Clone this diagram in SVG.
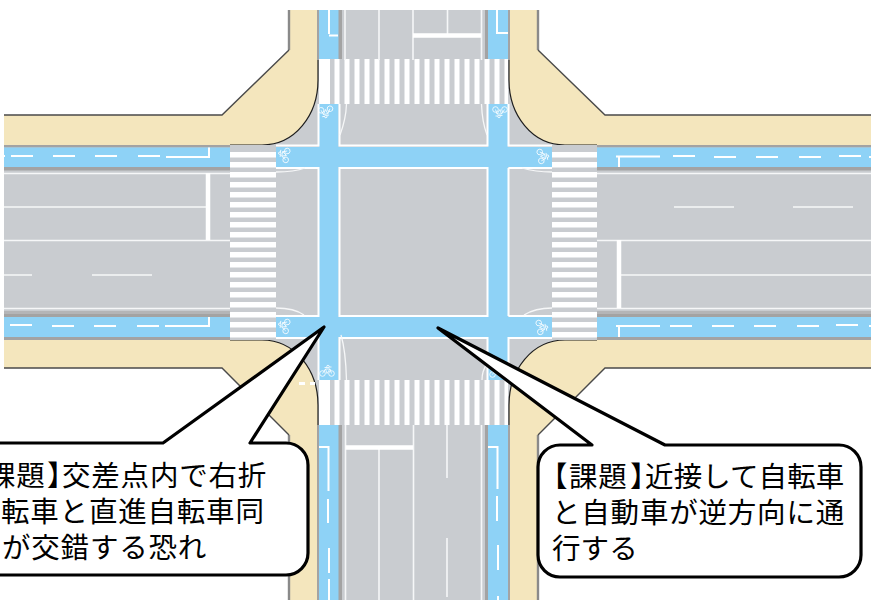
<svg xmlns="http://www.w3.org/2000/svg" xmlns:xlink="http://www.w3.org/1999/xlink" width="877" height="604" viewBox="0 0 877 604">
<style>
.road{fill:#c9ccd0}.blue{fill:#8ed2f6}.gut{fill:#a3a3a3}.gut2{fill:#b4b5b7}.walk{fill:#f4e6bd}
.edge{fill:none;stroke:#4a4a4a;stroke-width:1.4}.curb{fill:none;stroke:#1e1e1e;stroke-width:1.2}
.edgeg{fill:none;stroke:#8a8a8a;stroke-width:2.4}
.w1{stroke:#f6f7f8;stroke-width:1.6;fill:none}.w2{stroke:#fff;stroke-width:2;fill:none}.w4{stroke:#fff;stroke-width:4.5;fill:none}
.arc{stroke:#f6f7f8;stroke-width:1.3;fill:none}
.bike{stroke:#fff;stroke-width:.8;fill:none}
.call{fill:#fff;stroke:#000;stroke-width:3.2;stroke-linejoin:round}
.t{font-family:"Noto Sans CJK JP","Noto Sans CJK SC",sans-serif;font-size:28.5px;fill:#000;letter-spacing:.8px}
.n{letter-spacing:.1px}
</style>
<defs>
<pattern id="hs" patternUnits="userSpaceOnUse" width="10" height="10" y="2"><rect width="10" height="5.5" fill="#fff"/></pattern>
<pattern id="vs" patternUnits="userSpaceOnUse" width="10" height="10" x="4.5"><rect width="5" height="10" fill="#fff"/></pattern>
<g id="bk" class="bike"><circle cx="-4.5" cy="2.5" r="2.8"/><circle cx="4.5" cy="2.5" r="2.8"/><path d="M-4.5,2.5 L-1.5,-2 H3 L4.5,2.5 M-1.5,-2 L0,2.5 L3,-2 M-2.5,-3.5 H0 M2,-4 H4.5"/><circle cx="1" cy="-4.5" r="1.2"/></g>
</defs>
<rect width="877" height="604" fill="#fff"/>
<g id="road">
<rect class="road" x="4" y="145" width="867" height="195"/>
<rect class="road" x="317" y="10" width="193" height="590"/>
<rect class="road" x="262" y="80" width="303" height="325"/>
</g>
<g id="bike-lanes">
<rect class="gut" x="4" y="144" width="226" height="3.5"/><rect class="gut" x="4" y="167" width="226" height="3.5"/>
<rect class="gut2" x="4" y="311" width="226" height="3"/><rect class="gut" x="4" y="314" width="226" height="3"/><rect class="gut" x="4" y="337" width="226" height="3"/>
<rect class="gut" x="597" y="144" width="274" height="3.5"/><rect class="gut" x="597" y="167" width="274" height="3.5"/>
<rect class="gut2" x="597" y="311" width="274" height="3"/><rect class="gut" x="597" y="314" width="274" height="3"/><rect class="gut" x="597" y="337" width="274" height="3"/>
<rect class="gut" x="338" y="10" width="4" height="50"/><rect class="gut" x="485" y="10" width="3" height="50"/>
<rect class="gut" x="338" y="425" width="4" height="175"/><rect class="gut" x="485" y="425" width="3" height="175"/>
<rect class="gut" x="317" y="10" width="2" height="50"/><rect class="gut" x="508" y="10" width="2" height="50"/>
<rect class="gut" x="317" y="425" width="2" height="175"/><rect class="gut" x="508" y="425" width="2" height="175"/>
<rect class="blue" x="4" y="147.500" width="272" height="19.500"/><rect class="blue" x="4" y="317" width="272" height="20"/>
<rect class="blue" x="276" y="147" width="321" height="20"/><rect class="blue" x="276" y="317" width="321" height="20"/>
<rect class="blue" x="597" y="147.500" width="274" height="19.500"/><rect class="blue" x="597" y="317" width="274" height="20"/>
<rect class="blue" x="319" y="10" width="19.500" height="590"/><rect class="blue" x="488" y="10" width="20" height="590"/>
</g>
<g id="sidewalks">
<path class="walk" d="M289,10V50L222,115H4V145H262C295,145 318,115 318,80V60H317V10Z"/>
<path class="walk" d="M538,10V50L605,115H871V145H565C532,145 509,115 509,80V60H510V10Z"/>
<path class="walk" d="M289,600V435L222,368H4V340H262C295,340 318,370 318,405V425H317V600Z"/>
<path class="walk" d="M538,600V435L605,368H871V340H565C532,340 509,370 509,405V425H510V600Z"/>
<path class="edgeg" d="M289,10V50M538,10V50M289,435V600M538,435V600"/>
<path class="edge" d="M289,50L222,115H4M538,50L605,115H871M289,435L222,368H4M538,435L605,368H871"/>
<path class="curb" d="M230,145H262C295,145 318,115 318,80V60M597,145H565C532,145 509,115 509,80V60M230,340H262C295,340 318,370 318,405V425M597,340H565C532,340 509,370 509,405V425"/>
</g>
<g id="crosswalks">
<rect class="road" x="230" y="145" width="46" height="195"/><rect fill="url(#hs)" x="230" y="150" width="46" height="190"/>
<rect class="road" x="552" y="145" width="45" height="195"/><rect fill="url(#hs)" x="552" y="150" width="45" height="190"/>
<rect class="road" x="319" y="59" width="189" height="45"/><rect fill="url(#vs)" x="319" y="59" width="189" height="45"/><rect fill="#fff" x="319" y="59" width="11" height="45"/>
<rect class="road" x="319" y="380" width="189" height="45"/><rect fill="url(#vs)" x="319" y="380" width="189" height="45"/><rect fill="#fff" x="319" y="380" width="11" height="45"/>
<rect fill="#fff" x="299" y="382" width="6" height="3"/><rect fill="#fff" x="310" y="382" width="5" height="3"/>
</g>
<g id="markings">
<path class="w1" d="M4,173.500H230M4,207H206M4,240.500H230M4,308.500H230M597,173.500H871M597,240.500H871M620,275H871M597,308.500H871"/>
<path class="w1" d="M4,275H32M92,275H152M674,207H734M793,207H853"/>
<path class="w4" d="M208,173V240M619,240V308"/>
<path class="w2" d="M276,145.500H318.500V104M339.500,104V145.500H487.500V104M508.500,104V145.500H552M276,168H318.500V316H276M339.500,168H487.500V316H339.500ZM508.500,168V316M508.500,168H552M508.500,316H552M276,338H318.500V380M339.500,380V338H487.500V380M508.500,380V338H552"/>
<path class="arc" d="M346.500,104C346,118 343,127 340,135M276,172C288,172 297,171 305,168M481.500,104C482,118 484,127 487,135M522,168C532,171 542,172 552,172M276,308C288,308 297,310 304,315M341,335C344,345 346,362 346.500,380M482,380C482,372 484,368 487,364M524,315C532,310 542,308 552,308"/>
<path class="w1" d="M345,10V60M379,10V60M413,10V60M447.500,10V34M481.500,10V60M345.500,425V600M379,449V600M413.500,425V600M447,425V478M447,538V597M481.500,425V600"/>
<path stroke="#fff" stroke-width="4.500" fill="none" d="M413,35.500H481M345.500,447.500H413"/>
<g stroke="#fff" stroke-width="2" fill="none">
<path d="M11,156H33M53,156H75M95,156H117M138,156H160M166,157H209V147.500M4,156H5M10,325H32M52,326H74M94,326H116M137,326H159M165,326H209V317"/>
<path d="M616,156.500H660M619,157V167M673,156H695M714,157H736M756,157H778M799,157H821M839,156H861M869,157H871M616,326H660M619,326V337M670,326H692M712,326H734M754,326H776M797,326H819M836,325H858M869,326H871"/>
<path d="M329,10V34M338,35.500H329M497,10V33H508M319,447H328.500V491M328,499V523M329,548V573M329,579V600M488,447H497.500V489M497,496V521M498,545V570M498,596V600"/>
</g>
</g>
<g id="bicycles">
<use xlink:href="#bk" href="#bk" transform="translate(284,155) rotate(-80)"/>
<use xlink:href="#bk" href="#bk" transform="translate(326,112) rotate(170)"/>
<use xlink:href="#bk" href="#bk" transform="translate(500,112) rotate(180)"/>
<use xlink:href="#bk" href="#bk" transform="translate(543,156) rotate(80)"/>
<use xlink:href="#bk" href="#bk" transform="translate(284,326) rotate(-80)"/>
<use xlink:href="#bk" href="#bk" transform="translate(327,371)"/>
<use xlink:href="#bk" href="#bk" transform="translate(542,327) rotate(80)"/>
<use xlink:href="#bk" href="#bk" transform="translate(497,372)"/>
</g>
<g id="callout-left">
<path class="call" d="M-30,443H163L324,327L250,443H286A22,22 0 0 1 308,465V553A22,22 0 0 1 286,575H-30Z"/>
<text class="t" x="-13" y="486">課題<tspan dx="1.400">】</tspan><tspan dx="-14.300">交差点内で右折</tspan></text>
<text class="t" x="1" y="522">転車と直進自転車同</text>
<text class="t" x="2" y="558">が交錯する恐れ</text>
</g>
<g id="callout-right">
<path class="call" d="M560,445H592L438,328L665,445H839A22,22 0 0 1 861,467V555A22,22 0 0 1 839,577H560A22,22 0 0 1 538,555V467A22,22 0 0 1 560,445Z"/>
<text class="t" x="539" y="487">【<tspan dx=".7">課題</tspan><tspan dx="2.400">】</tspan><tspan class="n" dx="-14.300">近接して自転車</tspan></text>
<text class="t" x="552" y="523">と自動車が逆方向に通</text>
<text class="t n" x="552" y="559">行する</text>
</g>
</svg>
